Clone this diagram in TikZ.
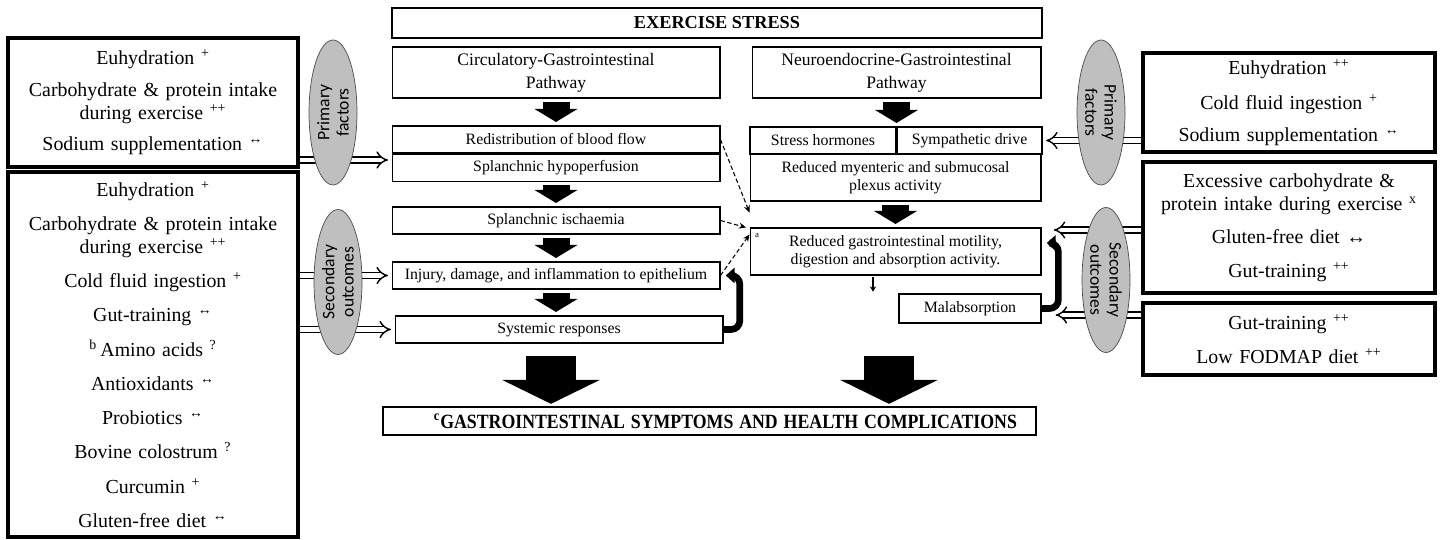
\documentclass[tikz,border=0pt]{standalone}
\usepackage{fontspec}
\setmainfont{Liberation Serif}
\newfontfamily\ellfont{Carlito}
\usepackage{graphicx}
\usepackage{tikz}
\usetikzlibrary{arrows.meta}
\usetikzlibrary{positioning}
\usetikzlibrary{shapes.geometric}

\tikzset{
  hdr/.style={draw, line width=1.6pt, inner sep=0pt, align=center, font=\bfseries\fontsize{10.4}{12}\selectfont},
  lst/.style={draw, line width=2.3pt, inner sep=0pt, align=center, minimum width=5.8cm, text width=5.6cm, font=\fontsize{11.3}{13}\selectfont},
  pth/.style={draw, line width=0.6pt, inner sep=0pt, align=center, minimum height=1.02cm, font=\fontsize{10}{13}\selectfont},
  stp/.style={draw, line width=0.6pt, inner sep=0pt, align=center, minimum height=0.54cm, font=\fontsize{9}{10.5}\selectfont},
  fac/.style={ellipse, draw=black!70, fill=black!25, inner sep=0pt, minimum width=2.9cm, minimum height=0.96cm, align=center, font=\ellfont\fontsize{10}{11}\selectfont},
  blk/.style={line width=0.54cm, -{Triangle[length=0.26cm, width=0.86cm, line width=0pt]}, shorten <=2pt, shorten >=2pt},
  bigarr/.style={line width=1cm, -{Triangle[length=0.48cm, width=1.96cm, line width=0pt]}, shorten >=1pt},
  dbl/.style={double, double distance=2.6pt, line width=0.8pt, -{Implies[scale=1.4]}, shorten >=2pt},
  crv/.style={line width=3.8pt, rounded corners=5pt, -{Triangle[length=5pt, width=9pt, line width=0pt]}, shorten >=3pt},
  dsh/.style={dashed, dash pattern=on 2.5pt off 1.5pt, line width=0.6pt, -{Stealth[length=4pt, width=3.5pt]}}
}

\begin{document}
\begin{tikzpicture}[x=0.02cm, y=-0.02cm]
  \useasboundingbox (0,0) rectangle (1443,540);

  % stress and the two pathways
  \node[hdr, minimum width=13cm, minimum height=0.6cm] (ES) at (717,23) {EXERCISE STRESS};
  \node[pth, minimum width=6.56cm] (CG) at (556,72.5) {Circulatory-Gastrointestinal\\Pathway};
  \node[pth, minimum width=5.78cm] (NG) at (896.5,72.5) {Neuroendocrine-Gastrointestinal\\Pathway};

  \node[stp, minimum width=6.56cm] (RB) at (556,139.5) {Redistribution of blood flow};
  \node[stp, minimum width=6.56cm, below=0pt of RB] (SH) {Splanchnic hypoperfusion};
  \node[stp, minimum width=6.56cm] (SI) at (556,220.5) {Splanchnic ischaemia};
  \node[stp, minimum width=6.56cm] (IJ) at (556,275.5) {Injury, damage, and inflammation to epithelium};
  \node[stp, minimum width=6.56cm] (SR) at (559,329.5) {Systemic responses};

  \node[stp, minimum width=2.92cm] (HS) at (823,140.5) {Stress hormones};
  \node[stp, minimum width=2.9cm, right=0pt of HS] (SD) {Sympathetic drive};
  \node[stp, minimum width=5.82cm, minimum height=0.94cm] (RM) at (895.5,177.5) {Reduced myenteric and submucosal\\plexus activity};
  \node[stp, minimum width=5.82cm, minimum height=0.94cm] (GM) at (895.5,251.5) {Reduced gastrointestinal motility,\\digestion and absorption activity.};
  \node[font=\fontsize{5}{6}\selectfont, anchor=north west, inner sep=0pt] (GMa) at ([shift={(3pt,-3pt)}]GM.north west) {a};
  \node[stp, minimum width=2.84cm, minimum height=0.58cm] (MA) at (970,308.5) {Malabsorption};

  \node[hdr, minimum width=13.06cm, minimum height=0.56cm, text width=12.3cm, align=right, font=\bfseries\fontsize{11.5}{12}\selectfont] (GS) at (709.5,421)
    {\scalebox{0.88}[1]{\textsuperscript{c}GASTROINTESTINAL SYMPTOMS AND HEALTH COMPLICATIONS}};

  % nutritional boxes
  \node[lst, minimum height=2.58cm] (LP) at (153,102.5) {Euhydration \textsuperscript{+}\\[5pt]
    Carbohydrate \& protein intake\\during exercise \textsuperscript{++}\\[5pt]
    Sodium supplementation \textsuperscript{↔}};
  \node[lst, minimum height=7.3cm] (LS) at (153,354.5) {Euhydration \textsuperscript{+}\\[6.5pt]
    Carbohydrate \& protein intake\\during exercise \textsuperscript{++}\\[6.5pt]
    Cold fluid ingestion \textsuperscript{+}\\[6.5pt]
    Gut-training \textsuperscript{↔}\\[6.5pt]
    \textsuperscript{b}\,Amino acids \textsuperscript{?}\\[6.5pt]
    Antioxidants \textsuperscript{↔}\\[6.5pt]
    Probiotics \textsuperscript{↔}\\[6.5pt]
    Bovine colostrum \textsuperscript{?}\\[6.5pt]
    Curcumin \textsuperscript{+}\\[6.5pt]
    Gluten-free diet \textsuperscript{↔}};
  \node[lst, minimum width=5.84cm, minimum height=1.98cm] (RP) at (1289,102.5) {Euhydration \textsuperscript{++}\\[7pt]
    Cold fluid ingestion \textsuperscript{+}\\[5pt]
    Sodium supplementation \textsuperscript{↔}};
  \node[lst, minimum width=5.84cm, minimum height=2.62cm] (RS) at (1289,227.5) {Excessive carbohydrate \&\\protein intake during exercise \textsuperscript{x}\\[6pt]
    Gluten-free diet ↔\\[6pt]
    Gut-training \textsuperscript{++}};
  \node[lst, minimum width=5.84cm, minimum height=1.44cm] (RF) at (1289,339) {Gut-training \textsuperscript{++}\\[6pt]
    Low FODMAP diet \textsuperscript{++}};

  % pathway arrows
  \draw[blk] (CG) -- (RB);
  \draw[blk] (SH) -- (SI);
  \draw[blk] (SI) -- (IJ);
  \draw[blk] (IJ.south) -- (IJ.south |- SR.north);
  \draw[blk] (NG) -- (NG |- HS.north);
  \draw[blk] (RM) -- (GM);
  \coordinate (m) at ([xshift=-12.8pt]GM.south);
  \draw[line width=0.8pt, -{Stealth[length=3pt, width=3.5pt]}, shorten <=1pt, shorten >=1pt] (m) -- (m |- MA.north);

  \coordinate (B1) at (551,356);
  \coordinate (B2) at (889,356);
  \draw[bigarr] (B1) -- (B1 |- GS.north);
  \draw[bigarr] (B2) -- (B2 |- GS.north);

  % dashed links to motility
  \draw[dsh] (RB.east) -- ([yshift=8.5pt]GM.north west);
  \draw[dsh] (SI.east) -- ([xshift=-2pt]GM.north west);
  \draw[dsh] (IJ.east) -- ([yshift=-4pt]GM.north west);

  % feedback loops
  \draw[crv] (SR.east) -| ([xshift=11pt]IJ.east) -- (IJ.east);
  \draw[crv] (MA.east) -| ([xshift=9.6pt, yshift=4.8pt]GM.east) -- ([yshift=4.8pt]GM.east);

  % factor arrows
  \draw[dbl] (LP.east |- 0,160) -- (SH.west |- 0,160);
  \draw[dbl] (LS.east |- IJ) -- (IJ);
  \draw[dbl] (LS.east |- SR) -- (SR);
  \draw[dbl] (RP.west |- SD) -- (SD);
  \draw[dbl, shorten >=7pt] (RS.west |- 0,230) -- (GM.east |- 0,230);
  \draw[dbl, shorten >=8pt] (RF.west |- 0,315) -- (MA.east |- 0,315);

  \node[fac, rotate=90] (PL) at (333,112.5) {Primary\\factors};
  \node[fac, rotate=90] (OL) at (338,282) {Secondary\\outcomes};
  \node[fac, rotate=-90] (PR) at (1101,112.5) {Primary\\factors};
  \node[fac, rotate=-90] (OR) at (1106,280) {Secondary\\outcomes};
\end{tikzpicture}
\end{document}
